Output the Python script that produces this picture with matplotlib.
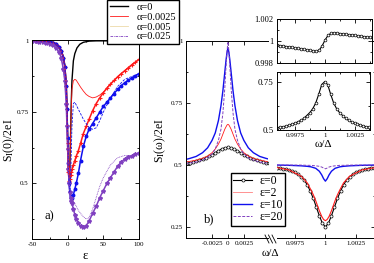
import matplotlib
matplotlib.use('Agg')
import matplotlib.pyplot as plt
from matplotlib.lines import Line2D

plt.rcParams['font.family'] = 'serif'
plt.rcParams['font.serif'] = ['Liberation Serif', 'DejaVu Serif']
plt.rcParams['mathtext.fontset'] = 'stix'

# ---- panel a): S_I(0)/2eI vs epsilon ----
eps_black = [-50, -40, -30, -20, -15, -10, -6, -4, -2, -1, 0, 1, 2, 3, 4, 5, 6, 8, 10, 13, 17, 22, 30, 40, 60, 80, 100]
s_black = [1.0, 1.0, 0.999, 0.995, 0.988, 0.972, 0.945, 0.915, 0.85, 0.77, 0.66, 0.56, 0.52, 0.55, 0.66, 0.78,
           0.86, 0.93, 0.955, 0.975, 0.988, 0.995, 0.999, 1.0, 1.0, 1.0, 1.0]

eps_sym = [-50, -45, -40, -35, -30, -25, -20, -16, -12, -9, -6, -4, -2, -1, 0, 1, 2, 3, 4, 5, 6, 8, 10, 12, 15, 18,
           22, 26, 30, 35, 40, 45, 50, 55, 60, 65, 70, 75, 80, 85, 90, 95, 100]
s_red_sym = [1.0, 1.0, 0.999, 0.999, 0.998, 0.996, 0.993, 0.988, 0.978, 0.965, 0.94, 0.91, 0.84, 0.76, 0.64, 0.54,
             0.51, 0.515, 0.53, 0.54, 0.55, 0.565, 0.58, 0.595, 0.615, 0.64, 0.675, 0.70, 0.725, 0.755, 0.78, 0.80,
             0.818, 0.834, 0.848, 0.861, 0.874, 0.885, 0.895, 0.905, 0.915, 0.925, 0.935]
s_blue_sym = [1.0, 1.0, 0.999, 0.999, 0.998, 0.996, 0.993, 0.988, 0.978, 0.965, 0.94, 0.91, 0.84, 0.76, 0.66, 0.57,
              0.50, 0.47, 0.455, 0.45, 0.448, 0.46, 0.48, 0.50, 0.535, 0.58, 0.63, 0.665, 0.69, 0.71, 0.73, 0.75,
              0.77, 0.785, 0.80, 0.815, 0.83, 0.843, 0.853, 0.862, 0.87, 0.878, 0.885]
s_purple_sym = [0.998, 0.998, 0.997, 0.996, 0.994, 0.99, 0.985, 0.975, 0.96, 0.94, 0.90, 0.86, 0.78, 0.70, 0.62, 0.55,
                0.50, 0.47, 0.45, 0.44, 0.43, 0.41, 0.39, 0.375, 0.36, 0.35, 0.347, 0.352, 0.368, 0.395, 0.42, 0.45,
                0.475, 0.50, 0.52, 0.54, 0.56, 0.575, 0.585, 0.592, 0.597, 0.602, 0.607]

eps_line = [-50, -40, -30, -20, -15, -10, -6, -4, -2, -1, 0, 1, 2, 3, 4, 5, 6, 8, 10, 12, 15, 18, 22, 26, 30, 35,
            40, 45, 50, 60, 70, 80, 90, 100]
s_red_line = [1.0, 0.999, 0.998, 0.993, 0.985, 0.97, 0.94, 0.91, 0.84, 0.76, 0.64, 0.54, 0.52, 0.56, 0.66, 0.76,
              0.83, 0.86, 0.865, 0.862, 0.85, 0.838, 0.824, 0.812, 0.805, 0.80, 0.803, 0.81, 0.82, 0.85, 0.873,
              0.896, 0.918, 0.935]
s_blue_line = [1.0, 0.999, 0.998, 0.993, 0.985, 0.97, 0.94, 0.91, 0.84, 0.76, 0.66, 0.57, 0.50, 0.47, 0.50, 0.60,
               0.70, 0.78, 0.785, 0.775, 0.76, 0.745, 0.725, 0.71, 0.695, 0.69, 0.695, 0.72, 0.75, 0.80, 0.84, 0.865,
               0.875, 0.885]
s_purple_line = [0.998, 0.997, 0.994, 0.985, 0.97, 0.95, 0.90, 0.86, 0.78, 0.70, 0.62, 0.55, 0.50, 0.47, 0.45, 0.44,
                 0.437, 0.435, 0.43, 0.42, 0.405, 0.395, 0.383, 0.375, 0.38, 0.41, 0.45, 0.49, 0.52, 0.565, 0.59,
                 0.598, 0.598, 0.607]

alpha_labels = ['α=0', 'α=0.0025', 'α=0.005', 'α=0.025']

# ---- panel b), left part: S_I(omega)/2eI near omega = 0 ----
w_left = [-0.0066, -0.006, -0.005, -0.004, -0.0032, -0.0025, -0.002, -0.0015, -0.0011, -0.0008, -0.0005, -0.0003,
          -0.00015, 0, 0.00015, 0.0003, 0.0005, 0.0008, 0.0011, 0.0015, 0.002, 0.0025, 0.0032, 0.004, 0.005, 0.006,
          0.0066]
s_e2_left = [0.513, 0.515, 0.52, 0.528, 0.537, 0.55, 0.565, 0.585, 0.605, 0.625, 0.645, 0.655, 0.662, 0.665, 0.662,
             0.655, 0.645, 0.625, 0.605, 0.585, 0.565, 0.55, 0.537, 0.528, 0.52, 0.515, 0.513]
s_e10_left = [0.523, 0.527, 0.535, 0.55, 0.57, 0.60, 0.63, 0.68, 0.74, 0.80, 0.875, 0.925, 0.955, 0.975, 0.955, 0.925,
              0.875, 0.80, 0.74, 0.68, 0.63, 0.60, 0.57, 0.55, 0.535, 0.527, 0.523]
s_e20_left = [0.506, 0.508, 0.512, 0.52, 0.53, 0.545, 0.565, 0.60, 0.645, 0.71, 0.81, 0.90, 0.96, 1.0, 0.96, 0.90,
              0.81, 0.71, 0.645, 0.60, 0.565, 0.545, 0.53, 0.52, 0.512, 0.508, 0.506]

w_left_e0 = [-0.0065, -0.006, -0.0055, -0.005, -0.0045, -0.004, -0.0035, -0.003, -0.0025, -0.002, -0.0015, -0.001,
             -0.0005, 0, 0.0005, 0.001, 0.0015, 0.002, 0.0025, 0.003, 0.0035, 0.004, 0.0045, 0.005, 0.0055, 0.006,
             0.0065]
s_e0_left = [0.507, 0.509, 0.512, 0.515, 0.519, 0.523, 0.528, 0.535, 0.542, 0.55, 0.558, 0.565, 0.57, 0.572, 0.57,
             0.565, 0.558, 0.55, 0.542, 0.535, 0.528, 0.523, 0.519, 0.515, 0.512, 0.509, 0.507]

# ---- panel b), right part: near omega = Delta ----
w_right = [0.996, 0.997, 0.998, 0.9985, 0.9988, 0.999, 0.9992, 0.9995, 0.9997, 0.99985, 1.0, 1.00015, 1.0003,
           1.0005, 1.0008, 1.001, 1.0012, 1.0015, 1.002, 1.003, 1.0041]
s_e2_right = [0.49, 0.48, 0.455, 0.428, 0.40, 0.38, 0.356, 0.315, 0.292, 0.28, 0.275, 0.28, 0.292, 0.315, 0.356,
              0.38, 0.40, 0.428, 0.455, 0.48, 0.49]
s_e10_right = [0.50, 0.499, 0.497, 0.495, 0.493, 0.49, 0.487, 0.475, 0.46, 0.445, 0.435, 0.445, 0.46, 0.475, 0.487,
               0.49, 0.493, 0.495, 0.497, 0.499, 0.50]
s_e20_right = [0.50, 0.50, 0.50, 0.499, 0.499, 0.498, 0.497, 0.495, 0.492, 0.488, 0.485, 0.488, 0.492, 0.495, 0.497,
               0.498, 0.499, 0.499, 0.50, 0.50, 0.50]

w_fine = [0.996, 0.99625, 0.9965, 0.99675, 0.997, 0.99725, 0.9975, 0.99775, 0.998, 0.99825, 0.9985, 0.99875, 0.999,
          0.99925, 0.9995, 0.99975, 1.0, 1.00025, 1.0005, 1.00075, 1.001, 1.00125, 1.0015, 1.00175, 1.002, 1.00225,
          1.0025, 1.00275, 1.003, 1.00325, 1.0035, 1.00375, 1.004]
s_e0_right = [0.49, 0.489, 0.486, 0.483, 0.48, 0.475, 0.47, 0.462, 0.452, 0.44, 0.42, 0.395, 0.365, 0.33, 0.295,
              0.265, 0.25, 0.265, 0.295, 0.33, 0.365, 0.395, 0.42, 0.44, 0.452, 0.462, 0.47, 0.475, 0.48, 0.483,
              0.486, 0.489, 0.49]
s_inset_top = [0.99964, 0.99959, 0.99955, 0.9995, 0.99946, 0.99942, 0.99937, 0.99933, 0.99929, 0.99924, 0.9992,
               0.99915, 0.99911, 0.99905, 0.99915, 0.99955, 1.0001, 1.00052, 1.0007, 1.00073, 1.00071, 1.00068,
               1.00064, 1.00061, 1.00058, 1.00055, 1.00051, 1.00047, 1.00044, 1.0004, 1.00036, 1.00032, 1.00028]
s_inset_low = [0.512, 0.514, 0.517, 0.52, 0.525, 0.53, 0.535, 0.542, 0.55, 0.56, 0.575, 0.59, 0.61, 0.64, 0.685,
               0.735, 0.75, 0.735, 0.685, 0.64, 0.61, 0.59, 0.575, 0.56, 0.55, 0.542, 0.535, 0.53, 0.525, 0.52,
               0.517, 0.514, 0.512]

eps_labels = ['ε=0', 'ε=2', 'ε=10', 'ε=20']

RED = '#ff1a1a'
BLUE = '#1010ee'
PURPLE = '#8040c0'

W, H = 374, 263


def box(x0, y0, x1, y1):
    return [x0 / W, 1 - y1 / H, (x1 - x0) / W, (y1 - y0) / H]


def style(ax, size=5):
    ax.tick_params(which='both', direction='in', top=True, right=True, labelsize=size, width=0.6, pad=2.5)
    ax.tick_params(which='major', length=3)
    ax.tick_params(which='minor', length=1.6)
    for s in ax.spines.values():
        s.set_linewidth(0.7)


fig = plt.figure(figsize=(3.74, 2.63), dpi=100)

# panel a
ax = fig.add_axes(box(32, 40, 139, 239))
style(ax)
ax.plot(eps_black, s_black, color='black', lw=1.0)
ax.plot(eps_sym, s_red_sym, color=RED, lw=1.1, marker='+', ms=3, mew=0.8)
ax.plot(eps_sym, s_blue_sym, color=BLUE, lw=1.1, marker='o', ms=1.8)
ax.plot(eps_sym, s_purple_sym, color=PURPLE, lw=1.1, marker='*', ms=3)
ax.plot(eps_line, s_red_line, color=RED, lw=0.6)
ax.plot(eps_line, s_blue_line, color=BLUE, lw=0.6, ls=(0, (3, 1.5)))
ax.plot(eps_line, s_purple_line, color=PURPLE, lw=0.6, ls=(0, (1, 1)))
ax.set_xlim(-50, 100)
ax.set_ylim(0.305, 1.003)
ax.set_xticks([-50, 0, 50, 100])
ax.set_xticklabels(['-50', '0', '50', '100'])
ax.set_xticks([-25, 25, 75], minor=True)
ax.set_yticks([0.5, 0.75, 1.0])
ax.set_yticklabels(['0.5', '0.75', '1'])
ax.set_yticks([0.375, 0.625, 0.875], minor=True)
ax.text(0.12, 0.1, 'a)', transform=ax.transAxes, fontsize=9)

handles_a = [Line2D([], [], color='black', lw=1.0),
             Line2D([], [], color=RED, lw=0.6),
             Line2D([], [], color='#ecd9a8', lw=0.6),
             Line2D([], [], color=PURPLE, lw=0.6, ls=(0, (3, 1, 1, 1)))]
fig.legend(handles_a, alpha_labels, loc='upper left', bbox_to_anchor=(107 / W, 1.0), fontsize=7.5,
           frameon=True, fancybox=False, edgecolor='black', framealpha=1, borderpad=0.25,
           labelspacing=0.05, handlelength=1.8, handletextpad=0.8, borderaxespad=0)

fig.text(9 / W, 1 - 140 / H, 'S$_\\mathrm{I}$(0)/2eI', rotation=90, ha='center', va='center', fontsize=8.5)
fig.text(85 / W, 1 - 256 / H, 'ε', ha='center', va='center', fontsize=9)

# panel b, left part
bl = fig.add_axes(box(186, 41, 268, 238))
style(bl)
bl.tick_params(which='both', right=False)
bl.spines['right'].set_visible(False)
bl.plot(w_left_e0, s_e0_left, color='black', lw=0.8, marker='o', ms=2.2, mfc='white', mew=0.5)
bl.plot(w_left, s_e2_left, color=RED, lw=0.6)
bl.plot(w_left, s_e10_left, color=BLUE, lw=1.0)
bl.plot(w_left, s_e20_left, color=PURPLE, lw=0.7, ls=(0, (3, 1.5)))
bl.set_xlim(-0.0066, 0.0063)
bl.set_ylim(0.205, 1.002)
bl.set_xticks([-0.0025, 0, 0.0025])
bl.set_xticklabels(['-0.0025', '0', '0.0025'])
bl.set_yticks([0.25, 0.5, 0.75, 1.0])
bl.set_yticklabels(['0.25', '0.5', '0.75', '1'])
bl.set_yticks([0.375, 0.625, 0.875], minor=True)
bl.text(0.22, 0.08, 'b)', transform=bl.transAxes, fontsize=9)

handles_b = [Line2D([], [], color='black', lw=0.8, marker='o', ms=2.2, mfc='white', mew=0.5),
             Line2D([], [], color='#ff8080', lw=0.6),
             Line2D([], [], color=BLUE, lw=1.0),
             Line2D([], [], color=PURPLE, lw=0.7, ls=(0, (3, 1.5)))]
fig.legend(handles_b, eps_labels, loc='upper left', bbox_to_anchor=(231 / W, 1 - 173 / H), fontsize=8.5,
           frameon=True, fancybox=False, edgecolor='black', framealpha=1, borderpad=0.2,
           labelspacing=0.0, handlelength=1.6, handletextpad=0.6, borderaxespad=0)

fig.text(160 / W, 1 - 140 / H, 'S$_\\mathrm{I}$(ω)/2eI', rotation=90, ha='center', va='center', fontsize=8.5)
fig.text(270 / W, 1 - 254 / H, 'ω/Δ', ha='center', va='center', fontsize=8)

# panel b, right part
br = fig.add_axes(box(277, 41, 375, 238))
style(br)
br.tick_params(which='both', left=False, labelleft=False)
br.spines['left'].set_visible(False)
br.plot(w_fine, s_e0_right, color='black', lw=0.8, marker='o', ms=2.2, mfc='white', mew=0.5)
br.plot(w_right, s_e2_right, color=RED, lw=0.8)
br.plot(w_right, s_e10_right, color=BLUE, lw=1.0)
br.plot(w_right, s_e20_right, color=PURPLE, lw=0.7, ls=(0, (3, 1.5)))
br.set_xlim(0.996, 1.0041)
br.set_ylim(0.205, 1.002)
br.set_xticks([0.9975, 1.0, 1.0025])
br.set_xticklabels(['0.9975', '1', '1.0025'])
br.set_yticks([0.25, 0.5, 0.75, 1.0])
br.set_yticks([0.375, 0.625, 0.875], minor=True)

# axis break marks
for x0 in (265, 268.5, 272):
    fig.add_artist(Line2D([x0 / W, (x0 + 4) / W], [1 - 235 / H, 1 - 243 / H],
                          transform=fig.transFigure, color='black', lw=0.6))

# upper inset
it = fig.add_axes(box(277, 19, 372, 63))
style(it, size=6)
it.plot(w_fine, s_inset_top, color='black', lw=0.8, marker='o', ms=2.0, mfc='white', mew=0.5)
it.set_xlim(0.996, 1.0039)
it.set_ylim(0.998, 1.002)
it.set_xticks([0.9975, 1.0, 1.0025])
it.set_xticks([0.99625, 0.99875, 1.00125, 1.00375], minor=True)
it.set_xticklabels([])
it.set_yticks([0.998, 1.0, 1.002])
it.set_yticklabels(['0.998', '1', '1.002'])
it.set_yticks([0.999, 1.001], minor=True)

# lower inset
il = fig.add_axes(box(277, 72, 370, 130))
style(il)
il.plot(w_fine, s_inset_low, color='black', lw=0.8, marker='o', ms=2.0, mfc='white', mew=0.5)
il.set_xlim(0.996, 1.0038)
il.set_ylim(0.5, 0.8)
il.set_xticks([0.9975, 1.0, 1.0025])
il.set_xticklabels(['0.9975', '1', '1.0025'])
il.set_xticks([0.99625, 0.99875, 1.00125, 1.00375], minor=True)
il.set_yticks([0.5, 0.75])
il.set_yticklabels(['0.5', '0.75'], fontsize=6.5)
il.set_yticks([0.625], minor=True)
il.set_xlabel('ω/Δ', fontsize=8, labelpad=1)

fig.savefig('out.png', dpi=100)
